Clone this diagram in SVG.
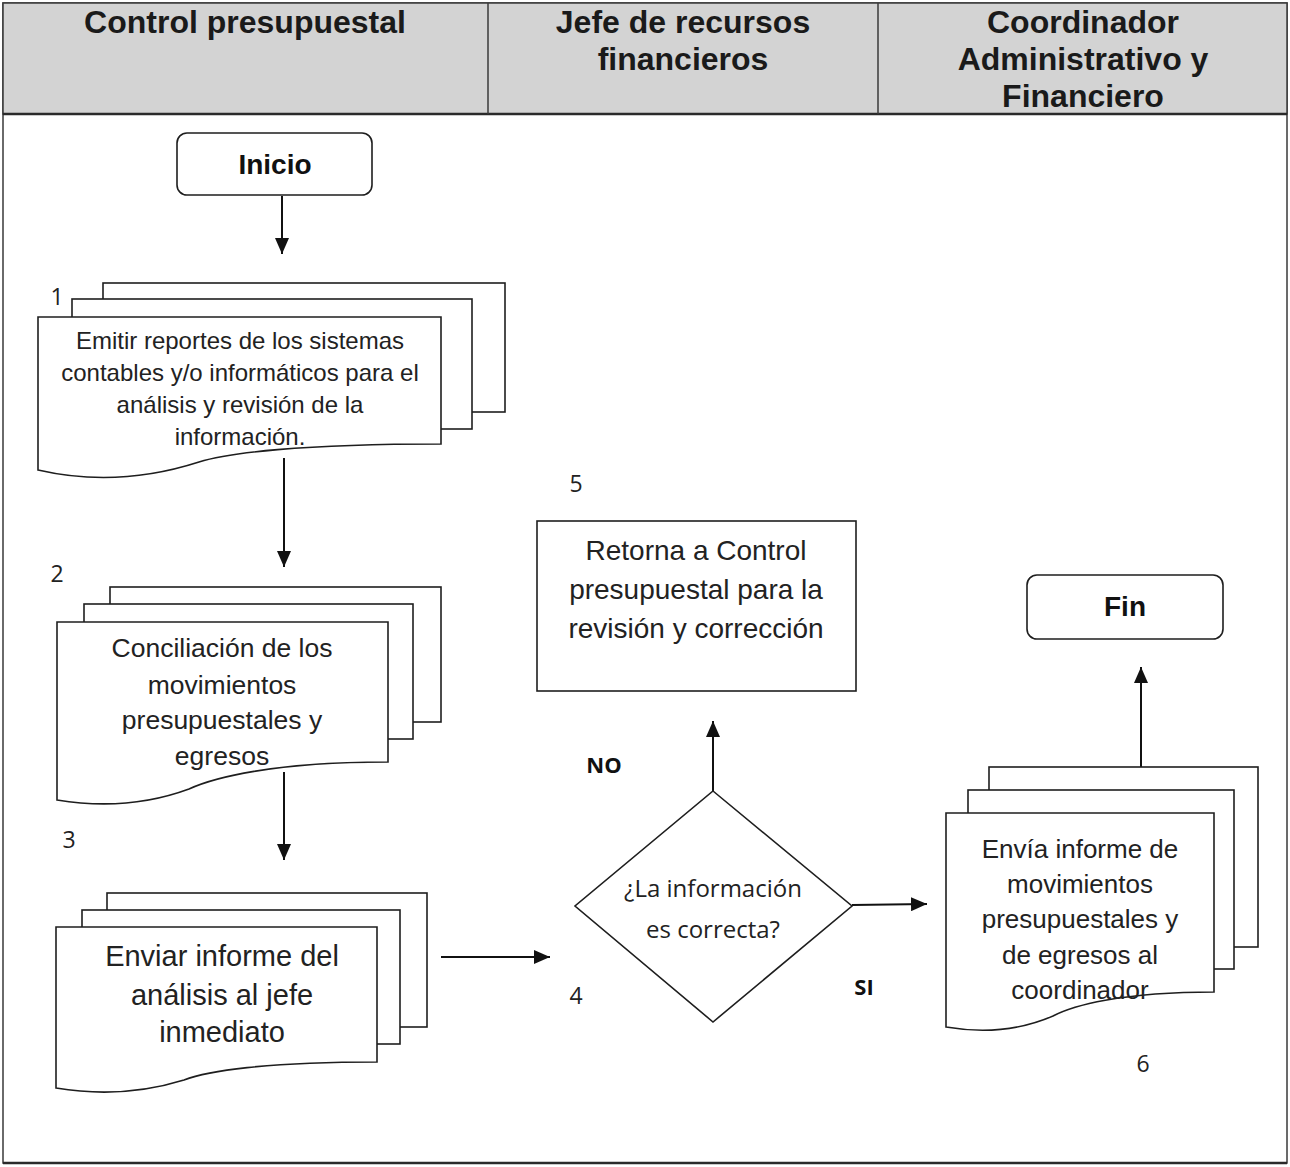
<svg xmlns="http://www.w3.org/2000/svg" width="1290" height="1167" viewBox="0 0 1290 1167">
  <style>
    .head { fill: #d3d3d3; stroke: #3a3a3a; stroke-width: 1.5; }
    .lane { stroke: #3a3a3a; stroke-width: 1.5; fill: none; }
    .ht { font-family: "Liberation Sans", Arial, sans-serif; font-weight: bold; font-size: 32px; fill: #1a1a1a; text-anchor: middle; }
    .shape { fill: #ffffff; stroke: #1e1e1e; stroke-width: 1.6; }
    .term { fill: #ffffff; stroke: #1e1e1e; stroke-width: 1.6; }
    .tt { font-family: "Liberation Sans", Arial, sans-serif; font-weight: bold; font-size: 28px; fill: #111; text-anchor: middle; }
    .txt { font-family: "Liberation Sans", Arial, sans-serif; fill: #222; text-anchor: middle; }
    .num { font-family: "Open Sans", "Liberation Sans", sans-serif; font-size: 23px; fill: #222; text-anchor: middle; }
    .lbl { font-family: "Open Sans", "Liberation Sans", sans-serif; font-weight: bold; font-size: 22px; fill: #111; text-anchor: middle; }
    .q { font-family: "Open Sans", "Liberation Sans", sans-serif; font-size: 24px; fill: #222; text-anchor: middle; }
    .conn { stroke: #111; stroke-width: 2; fill: none; marker-end: url(#arrow); }
  </style>
  <defs>
    <marker id="arrow" markerUnits="userSpaceOnUse" markerWidth="16" markerHeight="14" refX="16" refY="7" orient="auto">
      <path d="M0,0 L16,7 L0,14 Z" fill="#111"/>
    </marker>
  </defs>

  <!-- page frame and swimlane header -->
  <rect x="3" y="3" width="1284" height="1160" fill="#ffffff" stroke="#3a3a3a" stroke-width="1.5"/>
  <rect class="head" x="3" y="3" width="1284" height="111"/>
  <line x1="3" y1="114" x2="1287" y2="114" stroke="#2a2a2a" stroke-width="2.5"/>
  <line class="lane" x1="488" y1="3" x2="488" y2="114"/>
  <line class="lane" x1="878" y1="3" x2="878" y2="114"/>
  <line x1="3" y1="1163" x2="1287" y2="1163" stroke="#2a2a2a" stroke-width="2.5"/>
  <text class="ht" x="245" y="33">Control presupuestal</text>
  <text class="ht" x="683" y="33">Jefe de recursos</text>
  <text class="ht" x="683" y="70">financieros</text>
  <text class="ht" x="1083" y="33">Coordinador</text>
  <text class="ht" x="1083" y="70">Administrativo y</text>
  <text class="ht" x="1083" y="107">Financiero</text>

  <!-- connectors -->
  <g id="connectors">
    <line class="conn" x1="282" y1="196" x2="282" y2="254"/>
    <line class="conn" x1="284" y1="458" x2="284" y2="567"/>
    <line class="conn" x1="284" y1="772" x2="284" y2="860"/>
    <line class="conn" x1="441" y1="957" x2="550" y2="957"/>
    <line class="conn" x1="713" y1="791" x2="713" y2="721"/>
    <line class="conn" x1="852" y1="905" x2="927" y2="904"/>
    <line class="conn" x1="1141" y1="767" x2="1141" y2="667"/>
  </g>

  <!-- start -->
  <g id="inicio">
    <rect class="term" x="177" y="133" width="195" height="62" rx="10"/>
    <text class="tt" x="275" y="174">Inicio</text>
  </g>

  <!-- step 1 -->
  <g id="step1">
    <text class="num" x="57" y="305">1</text>
    <rect class="shape" x="103" y="283" width="402" height="129"/>
    <rect class="shape" x="72" y="299" width="400" height="130"/>
    <path class="shape" d="M38,317 H441 V444 C300,444 227,453 199,462 C143,480 90,482 38,470 Z"/>
    <g class="txt" font-size="24px">
      <text x="240" y="349">Emitir reportes de los sistemas</text>
      <text x="240" y="381">contables y/o informáticos para el</text>
      <text x="240" y="413">análisis y revisión de la</text>
      <text x="240" y="445">información.</text>
    </g>
  </g>

  <!-- step 2 -->
  <g id="step2">
    <text class="num" x="57" y="582">2</text>
    <rect class="shape" x="110" y="587" width="331" height="135"/>
    <rect class="shape" x="84" y="604" width="329" height="135"/>
    <path class="shape" d="M57,622 H388 V762 C272,762 213,778 189,789 C143,806 100,807 57,800 Z"/>
    <g class="txt" font-size="26.5px">
      <text x="222" y="657">Conciliación de los</text>
      <text x="222" y="694">movimientos</text>
      <text x="222" y="729">presupuestales y</text>
      <text x="222" y="765">egresos</text>
    </g>
  </g>

  <!-- step 3 -->
  <g id="step3">
    <text class="num" x="69" y="848">3</text>
    <rect class="shape" x="107" y="893" width="320" height="134"/>
    <rect class="shape" x="82" y="910" width="318" height="134"/>
    <path class="shape" d="M56,927 H377 V1062 C265,1062 207,1071 184,1080 C139,1094 98,1095 56,1088 Z"/>
    <g class="txt" font-size="29px">
      <text x="222" y="966">Enviar informe del</text>
      <text x="222" y="1005">análisis al jefe</text>
      <text x="222" y="1042">inmediato</text>
    </g>
  </g>

  <!-- step 4: decision -->
  <g id="step4">
    <polygon class="shape" points="713,791 852,906 713,1022 575,906"/>
    <text class="q" x="713" y="897">¿La información</text>
    <text class="q" x="713" y="938">es correcta?</text>
    <text class="num" x="576" y="1004">4</text>
    <text class="lbl" x="604" y="773">NO</text>
    <text class="lbl" x="864" y="995">SI</text>
  </g>

  <!-- step 5 -->
  <g id="step5">
    <text class="num" x="576" y="492">5</text>
    <rect class="shape" x="537" y="521" width="319" height="170"/>
    <g class="txt" font-size="28px">
      <text x="696" y="560">Retorna a Control</text>
      <text x="696" y="599">presupuestal para la</text>
      <text x="696" y="638">revisión y corrección</text>
    </g>
  </g>

  <!-- step 6 -->
  <g id="step6">
    <rect class="shape" x="989" y="767" width="269" height="180"/>
    <rect class="shape" x="968" y="790" width="266" height="179"/>
    <path class="shape" d="M946,813 H1214 V992 C1120,992 1072,1006 1053,1016 C1016,1032 981,1033 946,1027 Z"/>
    <g class="txt" font-size="26px">
      <text x="1080" y="858">Envía informe de</text>
      <text x="1080" y="893">movimientos</text>
      <text x="1080" y="928">presupuestales y</text>
      <text x="1080" y="964">de egresos al</text>
      <text x="1080" y="999">coordinador</text>
    </g>
    <text class="num" x="1143" y="1072">6</text>
  </g>

  <!-- end -->
  <g id="fin">
    <rect class="term" x="1027" y="575" width="196" height="64" rx="10"/>
    <text class="tt" x="1125" y="616">Fin</text>
  </g>
</svg>
